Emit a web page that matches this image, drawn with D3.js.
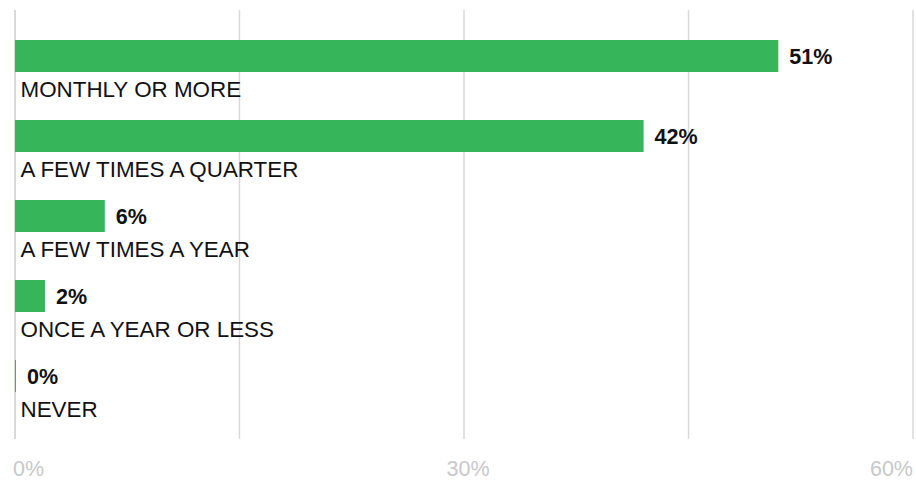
<!DOCTYPE html>
<html>
<head>
<meta charset="utf-8">
<script src="https://cdn.jsdelivr.net/npm/d3@7"></script>
<style>
  html, body { margin: 0; padding: 0; background: #fff; }
  svg { display: block; font-family: "Liberation Sans", Arial, Helvetica, sans-serif; }
</style>
</head>
<body>
<svg id="chart" width="916" height="480"></svg>
<script>
// How often respondents do it
const categories = ["MONTHLY OR MORE", "A FEW TIMES A QUARTER", "A FEW TIMES A YEAR", "ONCE A YEAR OR LESS", "NEVER"];
const values = [51, 42, 6, 2, 0];
const gridTicks = [0, 15, 30, 45, 60];
const tickLabels = [0, 30, 60];

const svg = d3.select("#chart");

const x = d3.scaleLinear().domain([0, 60]).range([15, 913]);
const y = d3.scaleBand().domain(categories).range([40, 392]).paddingInner(0.6).paddingOuter(0);

const green = "#37b55b";
const pct = d => d + "%";

// vertical grid
svg.append("g").selectAll("line")
  .data(gridTicks)
  .join("line")
  .attr("x1", d => x(d)).attr("x2", d => x(d))
  .attr("y1", 10).attr("y2", 439)
  .attr("stroke", "#d9d9d9")
  .attr("stroke-width", d => d === 0 ? 2 : 1.5);

const rows = svg.append("g").selectAll("g")
  .data(categories.map((c, i) => ({ c, v: values[i] })))
  .join("g");

// bars (a 1px sliver keeps a zero bar visible)
rows.append("rect")
  .attr("x", x(0))
  .attr("y", d => y(d.c))
  .attr("width", d => Math.max(1, x(d.v) - x(0)))
  .attr("height", y.bandwidth())
  .attr("fill", green);

// value labels at bar end
rows.append("text")
  .attr("x", d => Math.max(x(d.v), x(0) + 1) + 11)
  .attr("y", d => y(d.c) + y.bandwidth() / 2 + 7.5)
  .attr("font-size", 21.5)
  .attr("font-weight", "bold")
  .attr("fill", "#111")
  .text(d => pct(d.v));

// category labels under each bar
rows.append("text")
  .attr("x", 20.5)
  .attr("y", d => y(d.c) + y.bandwidth() + 25)
  .attr("font-size", 22.4)
  .attr("fill", "#111")
  .text(d => d.c);

// x-axis labels
svg.append("g").selectAll("text")
  .data(tickLabels)
  .join("text")
  .attr("x", d => x(d))
  .attr("dx", (d, i) => i === 0 ? -2 : (i === tickLabels.length - 1 ? 0 : 4))
  .attr("y", 475.5)
  .attr("text-anchor", (d, i) => i === 0 ? "start" : (i === tickLabels.length - 1 ? "end" : "middle"))
  .attr("font-size", 21.5)
  .attr("fill", "#c8c8c8")
  .text(pct);
</script>
</body>
</html>
